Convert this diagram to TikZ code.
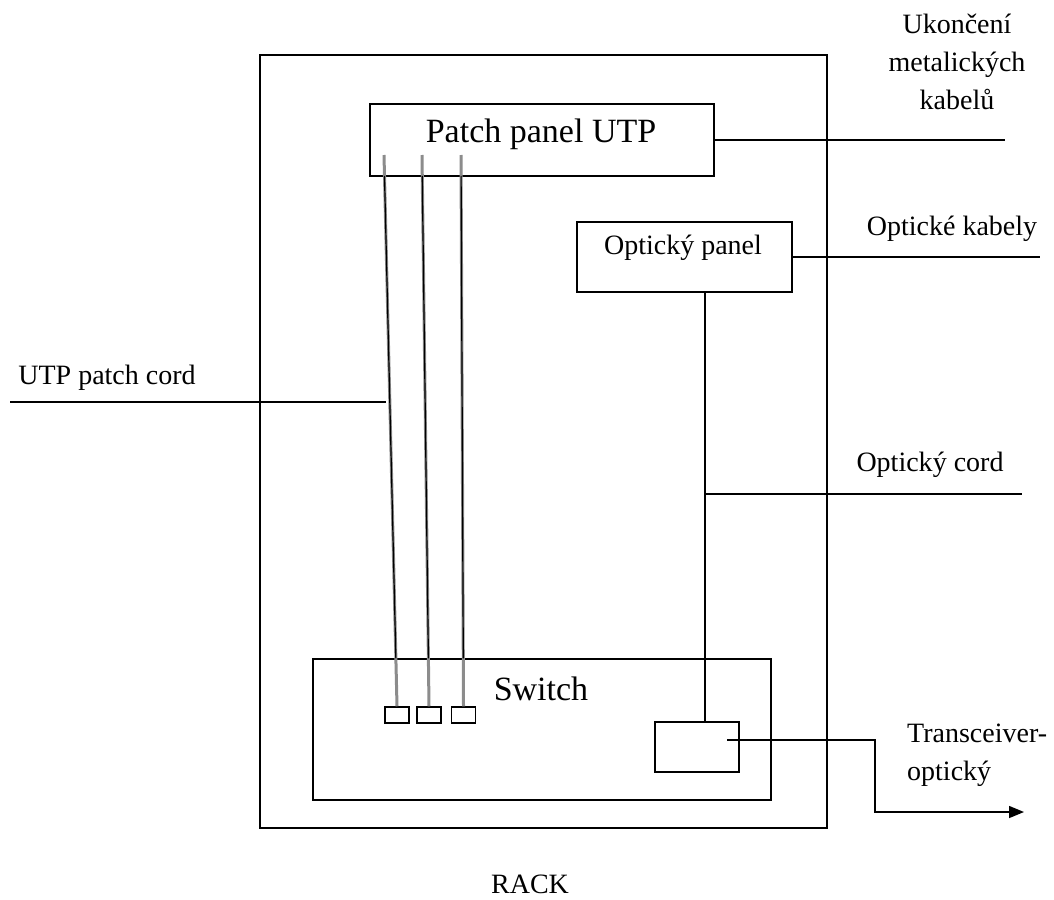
\documentclass[tikz,border=0pt]{standalone}
\usepackage{fontspec}
\setmainfont{Liberation Serif}
\usetikzlibrary{arrows.meta,calc}
\begin{document}
\begin{tikzpicture}[x=1pt,y=-1pt,
  box/.style={draw,line width=1.5pt,inner sep=0pt},
  wire/.style={line width=1.5pt},
  cordg/.style={line width=3pt,draw=black!45},
  cordb/.style={line width=1.2pt,draw=black},
  lbl/.style={inner sep=0pt,font=\fontsize{28}{38}\selectfont},
  big/.style={inner sep=0pt,font=\fontsize{34}{40}\selectfont}]
\useasboundingbox (0,0) rectangle (1054,899);
% boxes
\node[box,minimum width=567pt,minimum height=773pt] (rack) at (543.5,441.5) {};
\node[box,minimum width=344pt,minimum height=72pt] (patch) at (542,140) {};
\node[box,minimum width=215pt,minimum height=70pt] (opt) at (684.5,257) {};
\node[box,minimum width=458pt,minimum height=141pt] (sw) at (542,729.5) {};
\node[box,minimum width=24pt,minimum height=16pt] (p1) at (397,715) {};
\node[box,minimum width=24pt,minimum height=16pt] (p2) at (429,715) {};
\node[box,minimum width=24pt,minimum height=16pt] (p3) at (463.5,715) {};
\node[box,minimum width=84pt,minimum height=50pt] (trans) at (697,747) {};
% texts
\node[big] (tpatch) at (541,134) {Patch panel UTP};
\node[big] (tsw) at (541,689) {Switch};
\node[lbl] (topt) at (683,248) {Optický panel};
\node[lbl,align=center] (tuk) at (957,62) {Ukončení\\metalických\\kabelů};
\node[lbl] (tok) at (952,229) {Optické kabely};
\node[lbl] (tocord) at (930,465) {Optický cord};
\node[lbl] (tutp) at (107,378) {UTP patch cord};
\node[lbl,align=left,anchor=west] (ttr) at (907,755) {Transceiver-\\optický};
\node[lbl,text depth=0pt,anchor=base] (track) at (530,893) {RACK};
% coordinates
\coordinate (c1) at (384,155);
\coordinate (c2) at (422,155);
\coordinate (c3) at (461,155);
\coordinate (ukend) at (1005,140);
\coordinate (okend) at (1040,257);
\coordinate (vx) at (705,0);
\coordinate (junc) at (705,494);
\coordinate (ocend) at (1022,494);
\coordinate (utpstart) at (10,402);
\coordinate (utpend) at (386,402);
\coordinate (tstart) at (727,740);
\coordinate (tb1) at (875,740);
\coordinate (tb2) at (875,812);
\coordinate (tend) at (1024,812);
% cords
\foreach \c/\p in {c1/p1,c2/p2,c3/p3}{
  \draw[cordg] (\c) -- (\p.north);
  \draw[cordb] ($(\c)!0.038!(\p.north)$) -- ($(\c)!0.913!(\p.north)$);
}
% connectors
\draw[wire] (patch.east) -- (ukend);
\draw[wire] (opt.east) -- (okend);
\draw[wire] (opt.south -| vx) -- (trans.north -| vx);
\draw[wire] (junc) -- (ocend);
\draw[wire] (utpstart) -- (utpend);
\draw[wire,-{Triangle[length=15pt,width=12pt]}] (tstart) -- (tb1) -- (tb2) -- (tend);
\end{tikzpicture}
\end{document}
